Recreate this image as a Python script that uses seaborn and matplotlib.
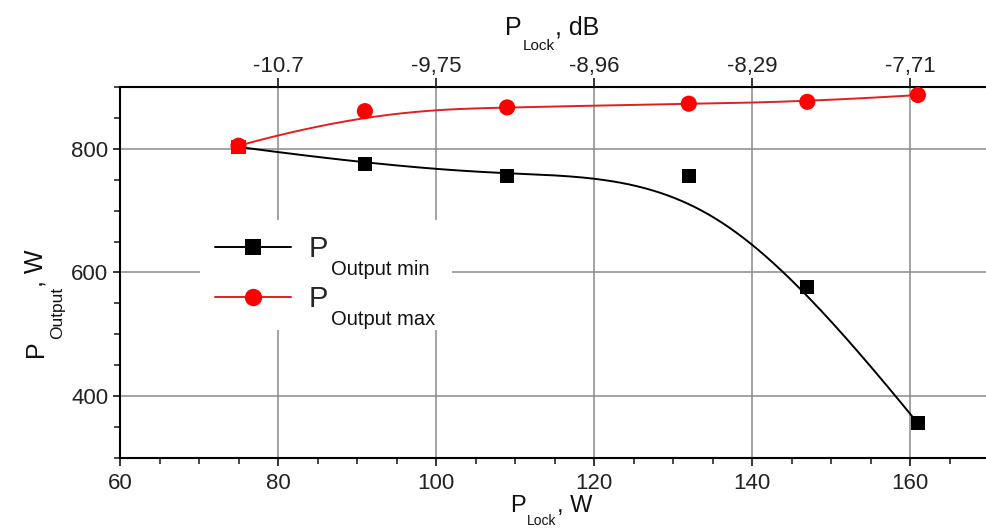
import numpy as np
import matplotlib
matplotlib.use("Agg")
import matplotlib.pyplot as plt
from matplotlib.lines import Line2D
from matplotlib.patches import Rectangle
from matplotlib.ticker import MultipleLocator
import seaborn as sns

# ---- data ----
p_lock_w = [75, 91, 109, 132, 147, 161]
p_out_min = [803, 776, 756, 756, 576, 356]
p_out_max = [805, 861, 867, 873, 876, 887]
top_tick_labels = ["-10.7", "-9,75", "-8,96", "-8,29", "-7,71"]
top_tick_pos = [80, 100, 120, 140, 160]
legend_subs = ["Output min", "Output max"]

sns.set_style("white")
plt.rcParams["font.family"] = ["Liberation Sans", "DejaVu Sans"]

W, H = 986, 529


def bspline_curve(xs, ys, deg=3, num=400):
    P = np.column_stack([xs, ys]).astype(float)
    n = len(P)
    inner = np.linspace(0, 1, n - deg + 1)
    knots = np.concatenate([np.zeros(deg), inner, np.ones(deg)])
    t = np.linspace(0, 1, num)
    t[-1] -= 1e-9
    N = np.zeros((num, len(knots) - 1))
    for i in range(len(knots) - 1):
        N[:, i] = (knots[i] <= t) & (t < knots[i + 1])
    for d in range(1, deg + 1):
        Nn = np.zeros((num, len(knots) - 1 - d))
        for i in range(len(knots) - 1 - d):
            a = knots[i + d] - knots[i]
            b = knots[i + d + 1] - knots[i + 1]
            term = np.zeros(num)
            if a > 0:
                term = term + (t - knots[i]) / a * N[:, i]
            if b > 0:
                term = term + (knots[i + d + 1] - t) / b * N[:, i + 1]
            Nn[:, i] = term
        N = Nn
    C = N @ P
    return C[:, 0], C[:, 1]


fig = plt.figure(figsize=(W / 100, H / 100), dpi=100)
ax = fig.add_axes([120 / W, 1 - 458 / H, 869 / W, (458 - 87) / H])

black = "#000000"
red = "#ff0000"
red_line = "#e02020"

cx, cy = bspline_curve(p_lock_w, p_out_min)
sns.lineplot(x=cx, y=cy, sort=False, estimator=None, color=black, lw=1.4, ax=ax)
cx2, cy2 = bspline_curve(p_lock_w, p_out_max)
sns.lineplot(x=cx2, y=cy2, sort=False, estimator=None, color=red_line, lw=1.4, ax=ax)

sns.scatterplot(x=p_lock_w, y=p_out_max, marker="o", s=135, color=red,
                edgecolor="none", ax=ax, zorder=5)
sns.scatterplot(x=p_lock_w, y=p_out_min, marker="s", s=105, color=black,
                edgecolor="none", ax=ax, zorder=6)
# where both series coincide, the reference shows the point in red
coll = ax.collections[-1]
coll.set_facecolor([red if abs(a - b) < 5 else black
                    for a, b in zip(p_out_min, p_out_max)])

ax.set_xlim(60, 170)
ax.set_ylim(300, 900)
ax.xaxis.set_major_locator(MultipleLocator(20))
ax.xaxis.set_minor_locator(MultipleLocator(5))
ax.yaxis.set_major_locator(MultipleLocator(200))
ax.yaxis.set_minor_locator(MultipleLocator(50))
ax.grid(True, which="major", color="#8a8a8a", lw=1.1)
ax.set_axisbelow(True)

for side in ["left", "bottom", "top"]:
    ax.spines[side].set_visible(True)
    ax.spines[side].set_color("black")
    ax.spines[side].set_linewidth(1.5)
ax.spines["right"].set_visible(False)

ax.tick_params(axis="x", which="major", direction="out", length=5.5, width=1.3,
               labelsize=16, labelcolor="#222222", bottom=True, pad=5)
ax.tick_params(axis="x", which="minor", direction="out", length=4.5, width=1.2,
               bottom=True)
ax.tick_params(axis="y", which="major", direction="out", length=5, width=1.3,
               labelsize=16, labelcolor="#222222", left=True, pad=3.5)
ax.tick_params(axis="y", which="minor", direction="out", length=4, width=1.2,
               left=True)
ax.set_xlabel("")
ax.set_ylabel("")

ax2 = ax.twiny()
ax2.set_xlim(ax.get_xlim())
ax2.set_xticks(top_tick_pos)
ax2.set_xticklabels(top_tick_labels)
ax2.tick_params(axis="x", which="major", direction="out", length=6.5, width=1.3,
                labelsize=16, labelcolor="#222222", top=True, pad=0.5)
ax2.xaxis.set_minor_locator(plt.NullLocator())
for side in ["left", "bottom", "right", "top"]:
    ax2.spines[side].set_visible(False)

# legend background box (covers grid like in the reference)
ax.add_patch(Rectangle((80 / 869, 128 / 371), 252 / 869, 110 / 371,
                       transform=ax.transAxes, facecolor="white",
                       edgecolor="none", zorder=1))

handles = [
    Line2D([], [], color=black, lw=1.4, marker="s", markersize=11.5, markeredgewidth=0),
    Line2D([], [], color=red_line, lw=1.4, marker="o", markersize=12.5,
           markerfacecolor=red, markeredgewidth=0),
]
leg = ax.legend(handles, ["P", "P"], loc="upper left",
                bbox_to_anchor=(95 / 869, (458 - 235) / 371),
                fontsize=21, frameon=False, handlelength=2.6, handletextpad=0.6,
                labelspacing=0.75, borderpad=0, borderaxespad=0)
leg.set_zorder(10)
for txt, sub in zip(leg.get_texts(), legend_subs):
    ax.annotate(sub, xy=(1, 0), xycoords=txt, xytext=(2.5, 2.0),
                textcoords="offset points", ha="left", va="top",
                fontsize=14.5, color="#111111", annotation_clip=False, zorder=11)


def compound_label(px, py, main, sub, tail, size, subsize, rotation=0, dy=1.0, gap=1.0):
    if rotation == 0:
        t1 = fig.text(px / W, 1 - py / H, main, fontsize=size, ha="left",
                      va="baseline", color="#111111")
        t2 = ax.annotate(sub, xy=(1, 0), xycoords=t1, xytext=(gap, dy),
                         textcoords="offset points", ha="left", va="top",
                         fontsize=subsize, color="#111111", annotation_clip=False)
        ax.annotate(tail, xy=(1, 0), xycoords=(t2, t1), xytext=(0, 0),
                    textcoords="offset points", ha="left", va="bottom",
                    fontsize=size, color="#111111", annotation_clip=False)
    else:
        t1 = fig.text(px / W, 1 - py / H, main, fontsize=size, ha="left",
                      va="baseline", rotation=90, rotation_mode="anchor",
                      color="#111111")
        t2 = ax.annotate(sub, xy=(1, 1), xycoords=t1, xytext=(-dy, gap),
                         textcoords="offset points", ha="left", va="bottom",
                         rotation=90, fontsize=subsize, color="#111111",
                         annotation_clip=False)
        ax.annotate(tail, xy=(0, 1), xycoords=(t1, t2), xytext=(0, 0),
                    textcoords="offset points", ha="left", va="bottom",
                    rotation=90, fontsize=size, color="#111111",
                    annotation_clip=False)


compound_label(505, 35, "P", "Lock", ", dB", 18, 11)
compound_label(510, 512, "P", "Lock", ", W", 17, 10, dy=2.0)
compound_label(43, 357, "P", "Output", ", W", 18, 12.5, rotation=90, dy=-1.5)

fig.savefig("out.png", dpi=100)
